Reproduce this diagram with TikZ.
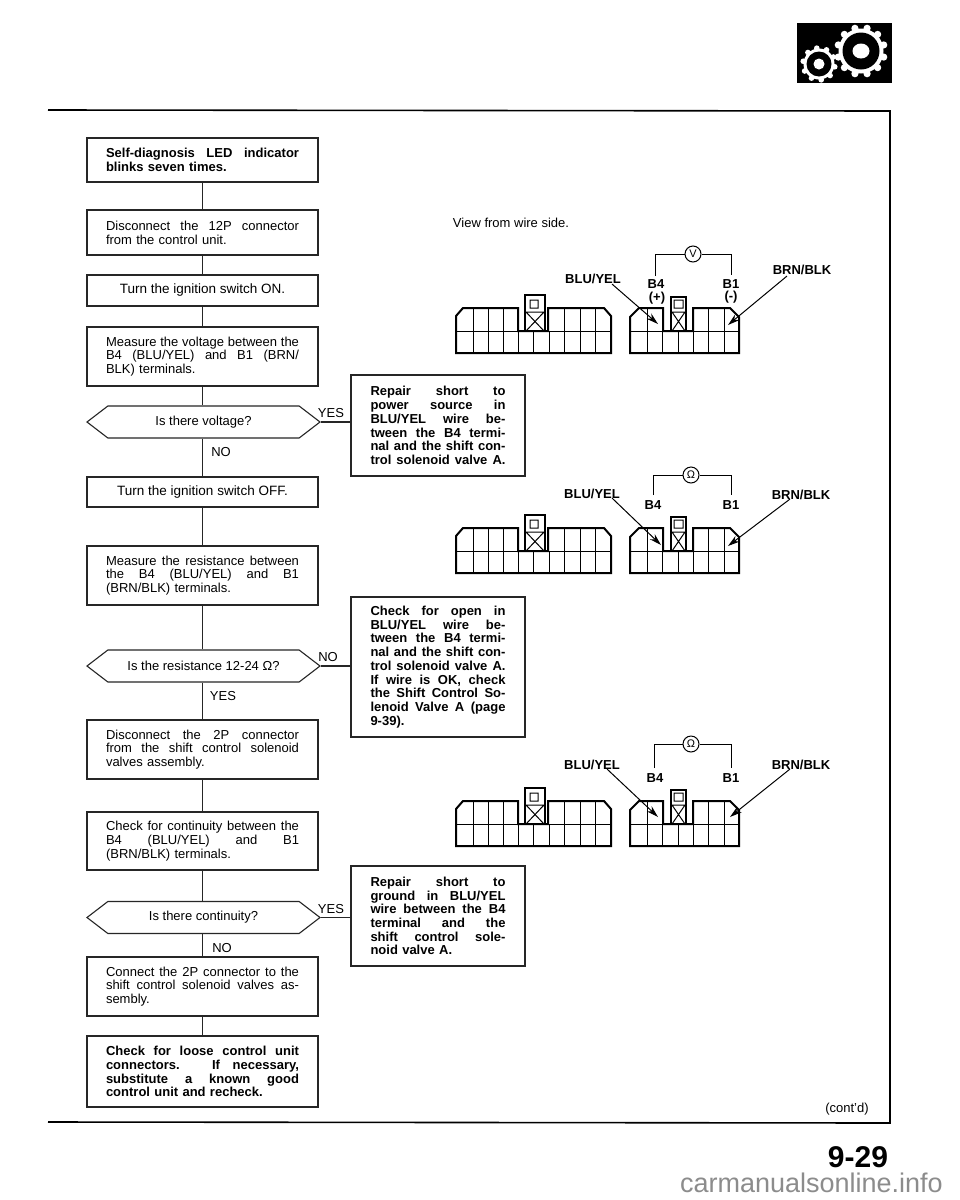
\documentclass[tikz,border=0pt]{standalone}
\usepackage{fontspec}
\setmainfont{Liberation Sans}
\usetikzlibrary{shapes.symbols,arrows.meta,calc}
\newcommand{\JL}[1]{\leavevmode\hbox to 193pt{\spaceskip=0pt \xspaceskip=0pt #1}}
\newcommand{\JR}[1]{\leavevmode\hbox to 135pt{\spaceskip=0pt \xspaceskip=0pt #1}}
\newcommand{\sel}{\fontsize{13}{13.7}\selectfont}
\newcommand{\selb}{\fontsize{13.5}{13.7}\selectfont}
\tikzset{
  flow/.style={draw=black!85,line width=1.1pt,inner sep=0pt,minimum width=231pt,text width=193pt,align=left,font=\sel},
  flowc/.style={draw=black!85,line width=1.1pt,inner sep=0pt,minimum width=231pt,align=center,font=\selb},
  side/.style={draw=black!85,line width=1.1pt,inner sep=0pt,minimum width=174pt,text width=135pt,align=left,font=\sel\bfseries},
  dec/.style={draw=black!85,line width=1.1pt,shape=signal,signal to=west and east,signal pointer angle=75,inner sep=0pt,minimum width=233pt,minimum height=32pt,font=\sel},
  link/.style={draw=black!85,line width=1.1pt},
  lab/.style={inner sep=0pt,font=\sel},
  blab/.style={inner sep=0pt,font=\sel\bfseries},
  outl/.style={draw=black,line width=2pt,line join=miter},
  thinl/.style={draw=black,line width=1pt},
  arr/.style={draw=black,line width=1pt,-{Stealth[length=12pt,width=7pt]}},
  meter/.style={draw=black,line width=1pt,circle,inner sep=0pt,minimum size=16pt,font=\fontsize{11}{11}\selectfont,fill=white},
  rulel/.style={draw=black,line width=1.6pt}
}
\newcommand{\connset}[1]{%
 \begin{scope}[shift={(0,#1)}]
  % left connector
  \draw[outl] (518,308) -- (463,308) -- (456,316) -- (456,353) -- (611,353) -- (611,316) -- (604,308) -- (548,308) -- (548,331) -- (518,331) -- cycle;
  \draw[thinl] (456,331) -- (518,331) (548,331) -- (611,331);
  \foreach \x in {473,488,503,564,580,595} \draw[thinl] (\x,308) -- (\x,353);
  \foreach \x in {518,533,549} \draw[thinl] (\x,331) -- (\x,353);
  \draw[line width=1.5pt] (525,331) -- (525,295) -- (545,295) -- (545,331);
  \draw[thinl] (530,300) rectangle (538,308) (525,312) -- (545,312) (526,312) -- (544,331) (544,312) -- (526,331);
  % right connector
  \draw[outl] (663,308) -- (639,308) -- (630,317) -- (630,353) -- (739,353) -- (739,317) -- (730,308) -- (693,308) -- (693,331) -- (663,331) -- cycle;
  \draw[thinl] (630,331) -- (663,331) (693,331) -- (739,331);
  \foreach \x in {647,708,724} \draw[thinl] (\x,308) -- (\x,353);
  \foreach \x in {662,678,693} \draw[thinl] (\x,331) -- (\x,353);
  \draw[line width=1.5pt] (671,331) -- (671,297) -- (686,297) -- (686,331);
  \draw[thinl] (674,300) rectangle (683,308) (671,312) -- (686,312) (672,312) -- (685,331) (685,312) -- (672,331);
 \end{scope}}
\begin{document}
\begin{tikzpicture}[x=1pt,y=-1pt]
\useasboundingbox (0,0) rectangle (960,1200);
\fill[white] (0,0) rectangle (960,1200);

% page frame
\coordinate (ftl) at (48,110);
\coordinate (ftr) at (890,111);
\coordinate (fbr) at (890,1123);
\coordinate (fbl) at (48,1122);
\draw[rulel] (ftl) -- (ftr) -- (fbr) -- (fbl);

% gear icon
\fill[black] (797,23) rectangle (892,83);
\fill[white] (861,51) circle (22.5);
\foreach \a in {0,30,...,330} \fill[white] (861,51) ++(\a+15:23.5) circle (3.6);
\fill[black] (861,51) circle (18.5);
\fill[white] (861,51) ellipse (8.5 and 7.5);
\fill[white] (819,64) circle (15.5);
\foreach \a in {0,36,...,324} \fill[white] (819,64) ++(\a+10:16) circle (2.8);
\fill[black] (819,64) circle (12.5);
\fill[white] (819,64) circle (5.5);

% flow column
\node[flow,font=\sel\bfseries,minimum height=44pt] (s1) at (202.5,160) {\JL{Self-diagnosis LED indicator}\\blinks seven times.};
\node[flow,minimum height=45pt] (s2) at (202.5,232.5) {\JL{Disconnect the 12P connector}\\from the control unit.};
\node[flowc,minimum height=31pt] (s3) at (202.5,290.5) {Turn the ignition switch ON.};
\node[flow,minimum height=59pt] (s4) at (202.5,356.5) {\JL{Measure the voltage between the}\\\JL{B4 (BLU/YEL) and B1 (BRN/}\\BLK) terminals.};
\node[dec] (d1) at (203.5,422) {Is there voltage?};
\node[flowc,minimum height=30pt] (s5) at (202.5,492) {Turn the ignition switch OFF.};
\node[flow,minimum height=59pt] (s6) at (202.5,575.5) {\JL{Measure the resistance between}\\\JL{the B4 (BLU/YEL) and B1}\\(BRN/BLK) terminals.};
\node[dec] (d2) at (203.5,666) {Is the resistance 12-24 Ω?};
\node[flow,minimum height=59pt] (s7) at (202.5,749.5) {\JL{Disconnect the 2P connector}\\\JL{from the shift control solenoid}\\valves assembly.};
\node[flow,minimum height=58pt] (s8) at (202.5,841) {\JL{Check for continuity between the}\\\JL{B4 (BLU/YEL) and B1}\\(BRN/BLK) terminals.};
\node[dec] (d3) at (203.5,917.5) {Is there continuity?};
\node[flow,minimum height=59pt] (s9) at (202.5,986.5) {\JL{Connect the 2P connector to the}\\\JL{shift control solenoid valves as-}\\sembly.};
\node[flow,font=\sel\bfseries,minimum height=71pt] (s10) at (202.5,1071.5) {\JL{Check for loose control unit}\\\JL{connectors. If necessary,}\\\JL{substitute a known good}\\control unit and recheck.};

% side boxes
\node[side,minimum height=101pt] (r1) at (438,425.5) {\JR{Repair short to}\\\JR{power source in}\\\JR{BLU/YEL wire be-}\\\JR{tween the B4 termi-}\\\JR{nal and the shift con-}\\\JR{trol solenoid valve A.}};
\node[side,minimum height=140pt] (r2) at (438,667) {\JR{Check for open in}\\\JR{BLU/YEL wire be-}\\\JR{tween the B4 termi-}\\\JR{nal and the shift con-}\\\JR{trol solenoid valve A.}\\\JR{If wire is OK, check}\\\JR{the Shift Control So-}\\\JR{lenoid Valve A (page}\\9-39).};
\node[side,minimum height=100pt] (r3) at (438,916) {\JR{Repair short to}\\\JR{ground in BLU/YEL}\\\JR{wire between the B4}\\\JR{terminal and the}\\\JR{shift control sole-}\\noid valve A.};

% flow links
\draw[link] (s1) -- (s2);
\draw[link] (s2) -- (s3);
\draw[link] (s3) -- (s4);
\draw[link] (s4) -- (d1.north -| s4.south);
\draw[link] (d1.south -| s4.south) -- (s5);
\draw[link] (s5) -- (s6);
\draw[link] (s6) -- (d2.north -| s6.south);
\draw[link] (d2.south -| s6.south) -- (s7);
\draw[link] (s7) -- (s8);
\draw[link] (s8) -- (d3.north -| s8.south);
\draw[link] (d3.south -| s8.south) -- (s9);
\draw[link] (s9) -- (s10);
\draw[link] (d1.east) -- (d1.east -| r1.west);
\draw[link] (d2.east) -- (d2.east -| r2.west);
\draw[link] (d3.east) -- (d3.east -| r3.west);

% branch labels
\node[lab] (y1) at (331,413) {YES};
\node[lab] (n1) at (221,452) {NO};
\node[lab] (n2) at (328,657) {NO};
\node[lab] (y2) at (223,696) {YES};
\node[lab] (y3) at (331,909) {YES};
\node[lab] (n3) at (222,948) {NO};

% connectors
\connset{0}
\connset{220}
\connset{493}

\node[lab] (view) at (511,223) {View from wire side.};

% set 1
\node[blab] (bl1) at (593,279) {BLU/YEL};
\node[blab] (br1) at (802,270) {BRN/BLK};
\node[blab] (b41) at (656,284) {B4};
\node[blab] (b11) at (731,284) {B1};
\node[blab] (pl1) at (657,298) {(+)};
\node[blab] (mi1) at (731,297) {(-)};
\node[meter] (m1) at (693,254) {V};
\coordinate (w1a) at (655,276);
\coordinate (w1b) at (731,275);
\draw[thinl] (w1a) |- (m1) -- (m1 -| w1b) -- (w1b);
\coordinate (t1a) at (658,324);
\coordinate (t1b) at (728,325);
\draw[arr] ([xshift=-9pt]bl1.south east) -- (t1a);
\draw[arr] ([xshift=-15pt,yshift=-1pt]br1.south) -- (t1b);

% set 2
\node[blab] (bl2) at (592,494) {BLU/YEL};
\node[blab] (br2) at (801,495) {BRN/BLK};
\node[blab] (b42) at (653,505) {B4};
\node[blab] (b12) at (731,505) {B1};
\node[meter] (m2) at (691,475) {Ω};
\coordinate (w2a) at (653,495);
\coordinate (w2b) at (731,495);
\draw[thinl] (w2a) |- (m2) -- (m2 -| w2b) -- (w2b);
\coordinate (t2a) at (661,545);
\coordinate (t2b) at (728,546);
\draw[arr] ([xshift=-8pt,yshift=1pt]bl2.south east) -- (t2a);
\draw[arr] ([xshift=-11pt,yshift=1pt]br2.south) -- (t2b);

% set 3
\node[blab] (bl3) at (592,765) {BLU/YEL};
\node[blab] (br3) at (801,765) {BRN/BLK};
\node[blab] (b43) at (655,778) {B4};
\node[blab] (b13) at (731,778) {B1};
\node[meter] (m3) at (691,744) {Ω};
\coordinate (w3a) at (654,768);
\coordinate (w3b) at (731,768);
\draw[thinl] (w3a) |- (m3) -- (m3 -| w3b) -- (w3b);
\coordinate (t3a) at (658,817);
\coordinate (t3b) at (730,817);
\draw[arr] ([xshift=-13pt,yshift=1pt]bl3.south east) -- (t3a);
\draw[arr] ([xshift=-11pt,yshift=1pt]br3.south) -- (t3b);

% footer
\node[lab] (cont) at (847,1109) {(cont'd)};
\node[inner sep=0pt,font=\fontsize{30}{30}\selectfont\bfseries] (page) at (858,1157) {9-29};
\node[inner sep=0pt,anchor=east,text=black!45,font=\fontsize{27}{27}\selectfont] (wm) at (943,1183) {carmanualsonline.info};
\end{tikzpicture}
\end{document}
